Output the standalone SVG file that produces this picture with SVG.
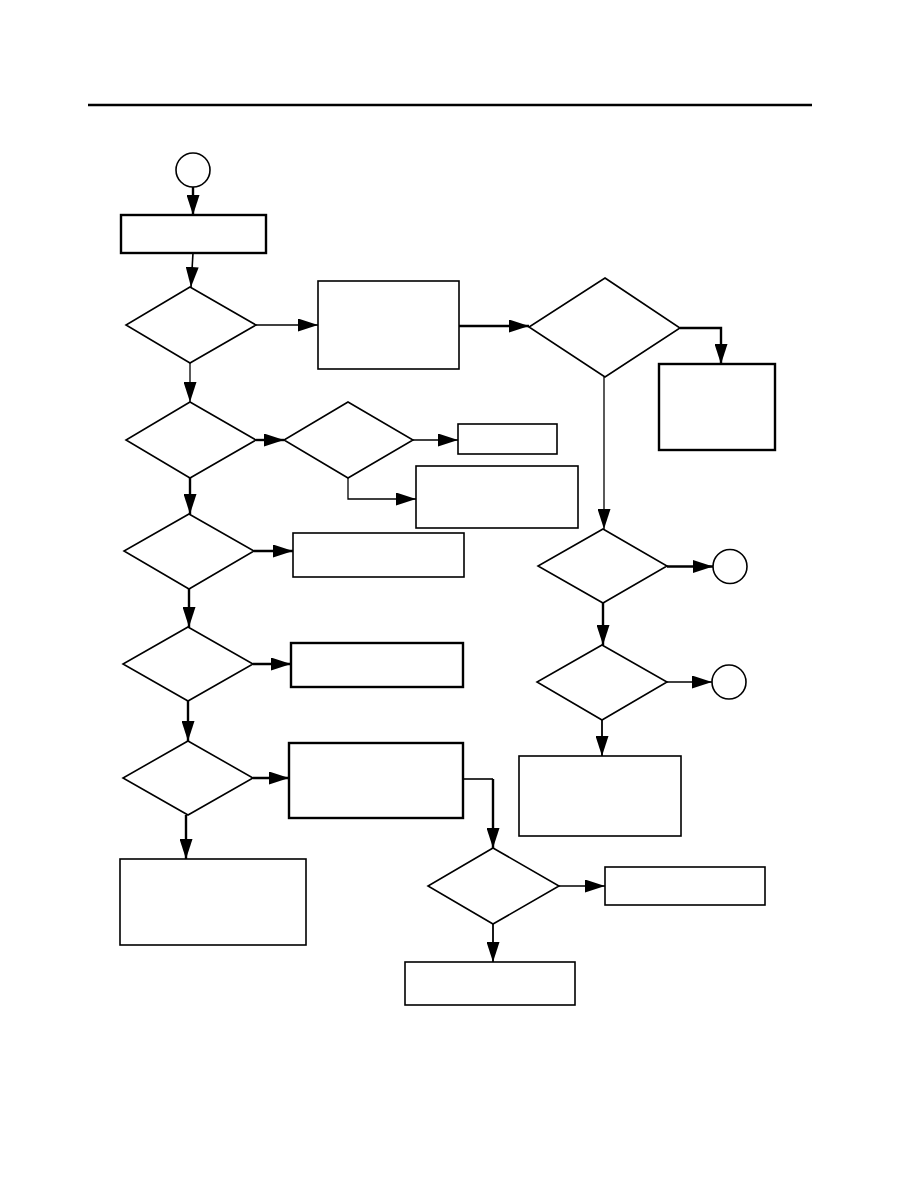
<svg xmlns="http://www.w3.org/2000/svg" width="918" height="1188" viewBox="0 0 918 1188">
<style>
.n{fill:#fff;stroke:#000;stroke-width:1.6}
.nt{fill:#fff;stroke:#000;stroke-width:2.4}
.c{fill:none;stroke:#000;stroke-width:1.3}
.ct{fill:none;stroke:#000;stroke-width:2.4}
</style>
<defs>
<marker id="a" markerUnits="userSpaceOnUse" markerWidth="20" markerHeight="13" refX="20" refY="6.5" orient="auto">
<path d="M0,0 L20,6.5 L0,13 z" fill="#000"/>
</marker>
</defs>
<rect width="918" height="1188" fill="#fff"/>
<line x1="88" y1="105" x2="812" y2="105" stroke="#000" stroke-width="2.6"/>
<g id="start"><circle class="n" cx="193" cy="170" r="17"/></g>
<g id="box1"><rect class="nt" x="121" y="215" width="145" height="38"/></g>
<g id="d1"><polygon class="n" points="190,287 256,325 190,363 126,325"/></g>
<g id="box2"><rect class="n" x="318" y="281" width="141" height="88"/></g>
<g id="dR1"><polygon class="n" points="605,278 680,328 605,377 529,327"/></g>
<g id="boxR1"><rect class="nt" x="659" y="364" width="116" height="86"/></g>
<g id="d2"><polygon class="n" points="190,402 256,440 190,478 126,440"/></g>
<g id="dM"><polygon class="n" points="348,402 413,440 348,478 284,440"/></g>
<g id="boxM1"><rect class="n" x="458" y="424" width="99" height="30"/></g>
<g id="boxM2"><rect class="n" x="416" y="466" width="162" height="62"/></g>
<g id="d3"><polygon class="n" points="189,514 254,551 189,589 124,551"/></g>
<g id="box3"><rect class="n" x="293" y="533" width="171" height="44"/></g>
<g id="d4"><polygon class="n" points="188,627 253,664 188,701 123,664"/></g>
<g id="box4"><rect class="nt" x="291" y="643" width="172" height="44"/></g>
<g id="d5"><polygon class="n" points="188,741 253,778 188,815 123,778"/></g>
<g id="box5"><rect class="nt" x="289" y="743" width="174" height="75"/></g>
<g id="boxB"><rect class="n" x="120" y="859" width="186" height="86"/></g>
<g id="dR2"><polygon class="n" points="603,529 667,566 603,603 538,566"/></g>
<g id="cR2"><circle class="n" cx="730" cy="566.5" r="17"/></g>
<g id="dR3"><polygon class="n" points="602,645 667,682 602,720 537,682"/></g>
<g id="cR3"><circle class="n" cx="729" cy="682" r="17"/></g>
<g id="boxR3"><rect class="n" x="519" y="756" width="162" height="80"/></g>
<g id="dB"><polygon class="n" points="493,848 559,886 493,924 428,886"/></g>
<g id="boxB1"><rect class="n" x="605" y="867" width="160" height="38"/></g>
<g id="boxB2"><rect class="n" x="405" y="962" width="170" height="43"/></g>
<g id="connectors">
<line class="ct" x1="193" y1="187" x2="193" y2="215" marker-end="url(#a)"/>
<line class="c" x1="193" y1="253" x2="191" y2="287" marker-end="url(#a)" style="stroke-width:1.6"/>
<line class="c" x1="256" y1="325" x2="318" y2="325" marker-end="url(#a)"/>
<line class="ct" x1="459" y1="326" x2="529" y2="326" marker-end="url(#a)"/>
<polyline class="ct" points="680,328 721,328 721,364" marker-end="url(#a)"/>
<line class="c" x1="190" y1="363" x2="190" y2="402" marker-end="url(#a)"/>
<line class="ct" x1="256" y1="440" x2="284" y2="440" marker-end="url(#a)"/>
<line class="c" x1="413" y1="440" x2="458" y2="440" marker-end="url(#a)"/>
<polyline class="c" points="348,478 348,499 416,499" marker-end="url(#a)"/>
<line class="ct" x1="190" y1="478" x2="190" y2="514" marker-end="url(#a)"/>
<line class="ct" x1="254" y1="551" x2="293" y2="551" marker-end="url(#a)"/>
<line class="ct" x1="189" y1="589" x2="189" y2="627" marker-end="url(#a)"/>
<line class="ct" x1="253" y1="664" x2="291" y2="664" marker-end="url(#a)"/>
<line class="ct" x1="188" y1="701" x2="188" y2="741" marker-end="url(#a)"/>
<line class="ct" x1="253" y1="778" x2="289" y2="778" marker-end="url(#a)"/>
<line class="ct" x1="186" y1="815" x2="186" y2="859" marker-end="url(#a)"/>
<polyline class="c" points="462,779 493,779" style="stroke-width:1.6"/>
<line class="ct" x1="493" y1="779" x2="493" y2="848" marker-end="url(#a)"/>
<line class="c" x1="604" y1="377" x2="604" y2="529" marker-end="url(#a)"/>
<line class="ct" x1="667" y1="566.5" x2="713" y2="566.5" marker-end="url(#a)"/>
<line class="ct" x1="603" y1="603" x2="603" y2="645" marker-end="url(#a)"/>
<line class="c" x1="667" y1="682" x2="712" y2="682" marker-end="url(#a)" style="stroke-width:1.6"/>
<line class="c" x1="602" y1="720" x2="602" y2="756" marker-end="url(#a)" style="stroke-width:1.8"/>
<line class="c" x1="559" y1="886" x2="605" y2="886" marker-end="url(#a)"/>
<line class="c" x1="493" y1="924" x2="493" y2="962" marker-end="url(#a)" style="stroke-width:1.8"/>
</g>
</svg>
